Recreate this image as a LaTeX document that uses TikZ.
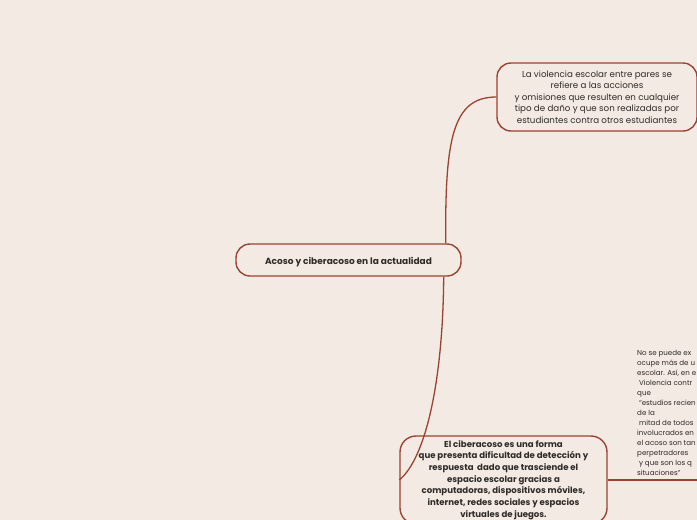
\documentclass[tikz,border=0pt]{standalone}
\usepackage{fontspec}
\setmainfont{Poppins}
\usetikzlibrary{calc}
\definecolor{bg}{HTML}{F3EBE3}
\definecolor{brd}{HTML}{9A4332}
\definecolor{txt}{HTML}{2E2A28}
\begin{document}
\begin{tikzpicture}[x=1pt,y=-1pt,
  topic/.style={draw=brd,line width=1.4pt,rounded corners=14pt,inner sep=0pt,align=center,text=txt},
  conn/.style={draw=brd,line width=1.3pt},
  plain/.style={inner sep=0pt,align=left,text=txt}]
\useasboundingbox (0,0) rectangle (697,520);
\fill[bg] (0,0) rectangle (697,520);
\clip (0,0) rectangle (697,520);
\node[topic,minimum width=225pt,minimum height=32pt,font=\bfseries\fontsize{9}{10}\selectfont] (c) at (348.5,260) {\raisebox{-2.5pt}[\height][\depth]{Acoso y ciberacoso en la actualidad}};
\node[topic,minimum width=200pt,minimum height=68pt,font=\fontsize{8.7}{11.6}\selectfont] (t) at (597,97) {La violencia escolar entre pares se\\refiere a las acciones\\y omisiones que resulten en cualquier\\tipo de daño y que son realizadas por\\ estudiantes contra otros estudiantes};
\node[topic,minimum width=207pt,minimum height=88pt,rounded corners=16pt,font=\bfseries\fontsize{8.6}{11.7}\selectfont] (b) at (503.5,480) {El ciberacoso es una forma\\que presenta dificultad de detección y\\respuesta\ \ dado que trasciende el\\espacio escolar gracias a\\computadoras, dispositivos móviles,\\internet, redes sociales y espacios\\virtuales de juegos.};
\node[plain,anchor=north west,font=\fontsize{7.1}{10}\selectfont] (n) at (637,350) {No se puede ex\\ocupe más de u\\escolar. Así, en e\\\ Violencia contr\\que\\\ ``estudios recien\\de la\\\ mitad de todos\\involucrados en\\el acoso son tan\\perpetradores\\\ y que son los q\\situaciones''};
\coordinate (edge) at (700,480);
\draw[conn] ($(c.north east)+(-16,0)$) .. controls (445,140) and (452,97) .. (t.west);
\draw[conn] ($(c.south east)+(-18,0)$) .. controls (443,380) and (426,458) .. (b.west);
\draw[conn] (b.east) -- (edge);
\end{tikzpicture}
\end{document}
